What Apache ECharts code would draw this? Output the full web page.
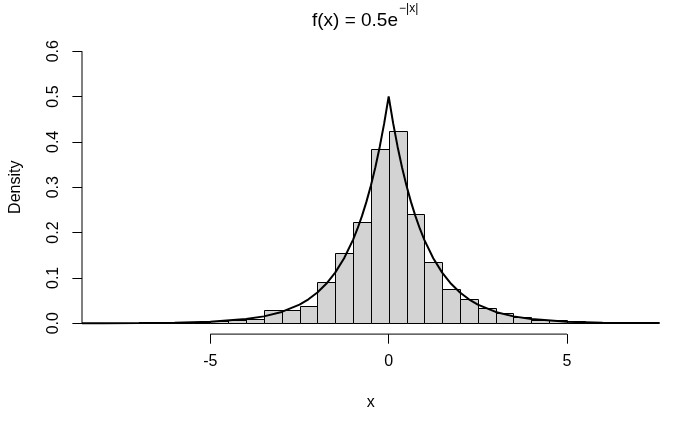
<!DOCTYPE html>
<html>
<head>
<meta charset="utf-8">
<script src="https://cdn.jsdelivr.net/npm/echarts@6/dist/echarts.min.js"></script>
<style>html,body{margin:0;padding:0;background:#fff;}#chart{width:700px;height:432px;}</style>
</head>
<body>
<div id="chart"></div>
<script>
// Histogram breaks (bin edges) and densities
const breaks = [-8,-7.5,-7,-6.5,-6,-5.5,-5,-4.5,-4,-3.5,-3,-2.5,-2,-1.5,-1,-0.5,0,0.5,1,1.5,2,2.5,3,3.5,4,4.5,5,5.5,6,6.5,7];
const density = [0,0,0.002,0.002,0.002,0.002,0.004,0.006,0.010,0.030,0.030,0.038,0.092,0.154,0.224,0.384,0.424,0.240,0.136,0.076,0.054,0.034,0.022,0.014,0.008,0.006,0.004,0.002,0.002,0.002];
// Density curve points
const curveX = [-8.6,-8,-7,-6,-5,-4,-3.5,-3,-2.5,-2.25,-2,-1.75,-1.5,-1.25,-1,-0.875,-0.75,-0.625,-0.5,-0.375,-0.25,-0.125,0,0.125,0.25,0.375,0.5,0.625,0.75,0.875,1,1.25,1.5,1.75,2,2.25,2.5,3,3.5,4,5,6,7,7.6];
const curveY = [0.0001,0.0002,0.0005,0.0012,0.0034,0.0092,0.0151,0.0249,0.0410,0.0527,0.0677,0.0869,0.1116,0.1433,0.1839,0.2084,0.2362,0.2676,0.3033,0.3436,0.3894,0.4412,0.5,0.4412,0.3894,0.3436,0.3033,0.2676,0.2362,0.2084,0.1839,0.1433,0.1116,0.0869,0.0677,0.0527,0.0410,0.0249,0.0151,0.0092,0.0034,0.0012,0.0005,0.0003];
// Axis ticks
const xTicks = [-5, 0, 5];
const yTicks = [0, 0.1, 0.2, 0.3, 0.4, 0.5, 0.6];
const xRange = [-8.6, 7.6];
const yRange = [-0.024, 0.624];
// Title pieces
const titleMain = 'f(x) = 0.5e';
const titleSup = '\u2212|x|';

const FONT = '"Liberation Sans", Arial, sans-serif';
const chart = echarts.init(document.getElementById('chart'), null, {renderer: 'canvas'});

const crisp = v => Math.round(v) + 0.5;

chart.setOption({
  animation: false,
  backgroundColor: '#fff',
  title: [
    {
      text: titleMain,
      left: 398,
      top: 11,
      padding: 0,
      textAlign: 'right',
      textStyle: {fontSize: 19, fontWeight: 'normal', fontFamily: FONT, color: '#000'}
    },
    {
      text: titleSup,
      left: 399,
      top: 3,
      padding: 0,
      textAlign: 'left',
      textStyle: {fontSize: 12, fontWeight: 'normal', fontFamily: FONT, color: '#000'}
    }
  ],
  grid: {left: 78.7, right: 40.3, top: 40.3, bottom: 97.9, containLabel: false},
  xAxis: {
    type: 'value',
    min: xRange[0], max: xRange[1],
    name: 'x', nameLocation: 'middle', nameGap: 60,
    nameTextStyle: {fontSize: 16, fontFamily: FONT, color: '#000'},
    axisLine: {show: false, onZero: false},
    splitLine: {show: false},
    axisTick: {show: true, inside: false, length: 9.6, customValues: xTicks, lineStyle: {color: '#000', width: 1}},
    axisLabel: {show: true, customValues: xTicks, margin: 19, fontSize: 16, fontFamily: FONT, color: '#000',
      formatter: v => String(v)}
  },
  yAxis: {
    type: 'value',
    min: yRange[0], max: yRange[1],
    name: 'Density', nameLocation: 'middle', nameGap: 58, nameRotate: 90,
    nameTextStyle: {fontSize: 16, fontFamily: FONT, color: '#000'},
    axisLine: {show: false, onZero: false},
    splitLine: {show: false},
    axisTick: {show: true, inside: false, length: 9.6, customValues: yTicks, lineStyle: {color: '#000', width: 1}},
    axisLabel: {show: true, customValues: yTicks, rotate: 90, margin: 20, fontSize: 16, fontFamily: FONT, color: '#000',
      formatter: v => v.toFixed(1)}
  },
  series: [
    {
      type: 'custom',
      clip: false,
      encode: {x: [0, 1], y: 2},
      data: density.map((d, i) => [breaks[i], breaks[i + 1], d]),
      renderItem: function (params, api) {
        const p0 = api.coord([api.value(0), api.value(2)]);
        const p1 = api.coord([api.value(1), 0]);
        const x0 = crisp(p0[0]), x1 = crisp(p1[0]);
        const y0 = crisp(p0[1]), y1 = crisp(p1[1]);
        return {
          type: 'rect',
          shape: {x: x0, y: y0, width: x1 - x0, height: y1 - y0},
          style: {fill: '#d3d3d3', stroke: '#000', lineWidth: 1}
        };
      }
    },
    {
      type: 'line',
      data: curveX.map((x, i) => [x, curveY[i]]),
      showSymbol: false,
      smooth: false,
      clip: false,
      lineStyle: {color: '#000', width: 2},
      z: 5
    },
    {
      // x axis line spanning first to last tick
      type: 'line',
      data: [[xTicks[0], yRange[0]], [xTicks[xTicks.length - 1], yRange[0]]],
      showSymbol: false, clip: false,
      lineStyle: {color: '#000', width: 1},
      z: 6
    },
    {
      // y axis line spanning first to last tick
      type: 'line',
      data: [[xRange[0], yTicks[0]], [xRange[0], yTicks[yTicks.length - 1]]],
      showSymbol: false, clip: false,
      lineStyle: {color: '#000', width: 1},
      z: 6
    }
  ]
});
</script>
</body>
</html>
